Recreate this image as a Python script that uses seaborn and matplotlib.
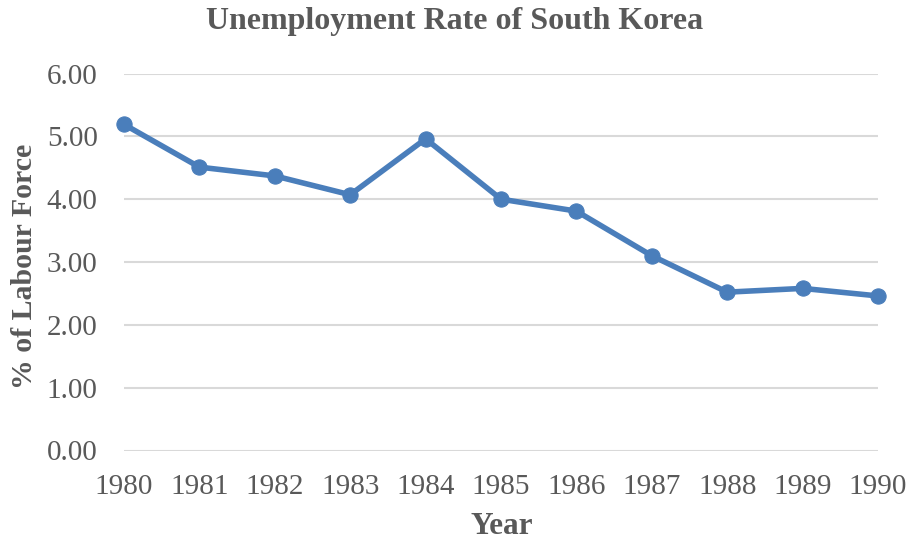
import matplotlib
matplotlib.use("Agg")
import matplotlib.pyplot as plt
import seaborn as sns
import pandas as pd

years = [1980, 1981, 1982, 1983, 1984, 1985, 1986, 1987, 1988, 1989, 1990]
rates = [5.19, 4.51, 4.37, 4.07, 4.96, 4.00, 3.81, 3.10, 2.52, 2.58, 2.46]
yticks = [0, 1, 2, 3, 4, 5, 6]

df = pd.DataFrame({"Year": years, "Rate": rates})

sns.set_theme(style="white")
plt.rcParams["font.family"] = ["Liberation Serif", "DejaVu Serif"]

W, H = 911, 545
fig = plt.figure(figsize=(W / 100, H / 100), dpi=100)
ax = fig.add_axes([124 / W, (H - 450.5) / H, 754 / W, 377 / H])

line_color = "#4a7ebb"
text_color = "#595959"

sns.lineplot(data=df, x="Year", y="Rate", ax=ax, color=line_color,
             linewidth=4, marker="o", markersize=11,
             markeredgecolor=line_color, markerfacecolor=line_color,
             clip_on=False, zorder=3)

ax.set_xlim(1980, 1990)
ax.set_ylim(0, 6)
ax.set_yticks(yticks)
ax.set_yticklabels([f"{v:.2f}" for v in yticks])
ax.set_xticks(years)
ax.set_xticklabels([str(y) for y in years])

for v in yticks:
    ax.axhline(v, color="#d9d9d9", linewidth=1.5, zorder=1)

for s in ax.spines.values():
    s.set_visible(False)

ax.tick_params(axis="y", length=0, pad=19, labelsize=21, labelcolor=text_color)
ax.tick_params(axis="x", length=0, pad=17, labelsize=21, labelcolor=text_color)
ax.set_xlabel("")
ax.set_ylabel("")

fig.text(455 / W, 1 - 22 / H, "Unemployment Rate of South Korea",
         ha="center", va="center", fontsize=23, fontweight="bold", color=text_color)
fig.text(502 / W, 1 - 527 / H, "Year", ha="center", va="center",
         fontsize=22.5, fontweight="bold", color=text_color)
fig.text(25 / W, 1 - 266 / H, "% of Labour Force", ha="center", va="center",
         rotation=90, fontsize=21.5, fontweight="bold", color=text_color)

fig.savefig("out.png", dpi=100)
